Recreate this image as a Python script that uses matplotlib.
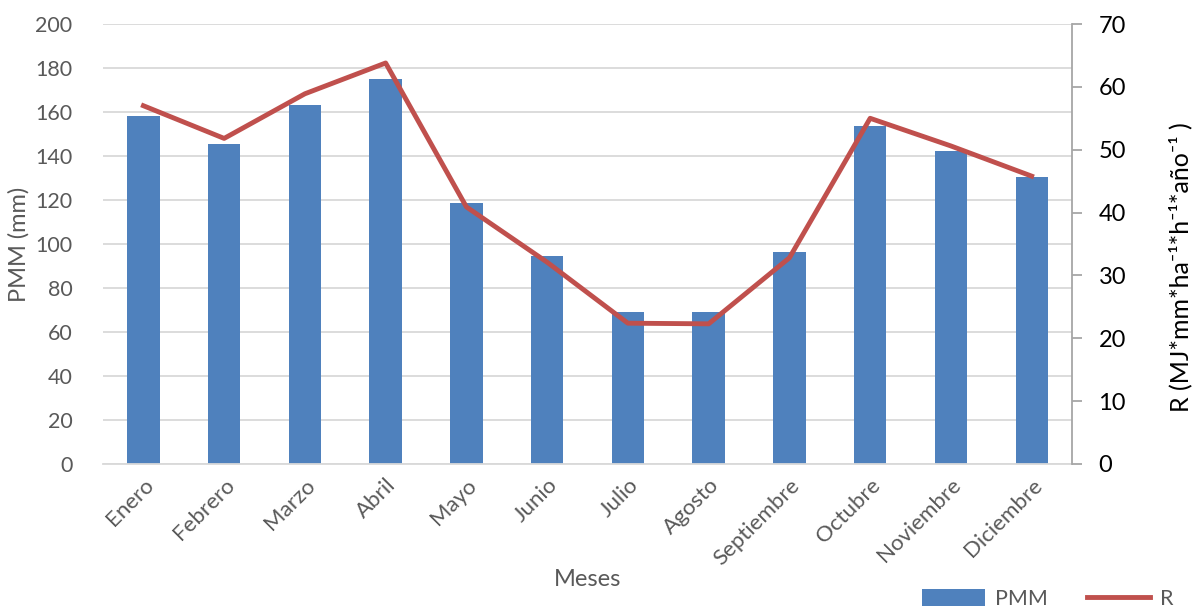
import matplotlib.pyplot as plt

meses = ['Enero', 'Febrero', 'Marzo', 'Abril', 'Mayo', 'Junio', 'Julio',
         'Agosto', 'Septiembre', 'Octubre', 'Noviembre', 'Diciembre']
pmm = [158, 145.5, 163, 175, 118.5, 94.5, 69, 69, 96.5, 153.5, 142.5, 130.5]
r = [57.0, 51.8, 58.9, 63.8, 40.9, 32.1, 22.4, 22.3, 32.8, 55.0, 50.6, 45.8]

plt.rcParams['font.family'] = ['Lato', 'DejaVu Sans']
gris = '#595959'

fig = plt.figure(figsize=(11.95, 6.11), dpi=100)
ax = fig.add_axes([0.0862, 0.2406, 0.8109, 0.7201])
x = range(len(meses))
barras = ax.bar(x, pmm, width=0.4, color='#4F81BD', label='PMM', zorder=2)
ax.set_ylim(0, 200)
ax.set_yticks(range(0, 201, 20))
ax.set_xlim(-0.5, len(meses) - 0.5)
ax.grid(axis='y', color='#D9D9D9', linewidth=1.3, zorder=0)
for s in ['top', 'right', 'left']:
    ax.spines[s].set_visible(False)
ax.spines['bottom'].set_color('#D9D9D9')
ax.spines['bottom'].set_linewidth(1.3)
ax.tick_params(axis='y', length=0, labelsize=15.5, labelcolor=gris, pad=22)
ax.tick_params(axis='x', length=0, labelsize=16, labelcolor=gris, pad=8)
ax.set_xticks(list(x))
ax.set_xticklabels(meses, rotation=45, ha='right', rotation_mode='anchor')
ax.set_ylabel('PMM (mm)', fontsize=17, color=gris, labelpad=4)
ax.set_xlabel('Meses', fontsize=17, color=gris, labelpad=0)

ax2 = ax.twinx()
linea, = ax2.plot(list(x), r, color='#C0504D', linewidth=3.5, label='R', zorder=3)
ax2.set_ylim(0, 70)
ax2.set_yticks(range(0, 71, 10))
for s in ['top', 'left', 'bottom']:
    ax2.spines[s].set_visible(False)
ax2.spines['right'].set_color('#A6A6A6')
ax2.spines['right'].set_linewidth(1.3)
ax2.tick_params(axis='y', length=7, width=1.3, color='#A6A6A6', labelsize=17,
                labelcolor='black', pad=12)
ax2.set_ylabel('R (MJ*mm*ha⁻¹*h⁻¹*año⁻¹ )', fontsize=18, color='black')
ax2.yaxis.set_label_coords(1.1, 0.448)

fig.legend([barras, linea], ['PMM', 'R'], ncol=2, frameon=False, fontsize=15.5,
           loc='center', bbox_to_anchor=(0.877, 0.02), handlelength=2.9,
           handleheight=0.9, handletextpad=0.5, columnspacing=1.8,
           labelcolor=gris, borderpad=0.1)

fig.savefig('out.png', dpi=100)
